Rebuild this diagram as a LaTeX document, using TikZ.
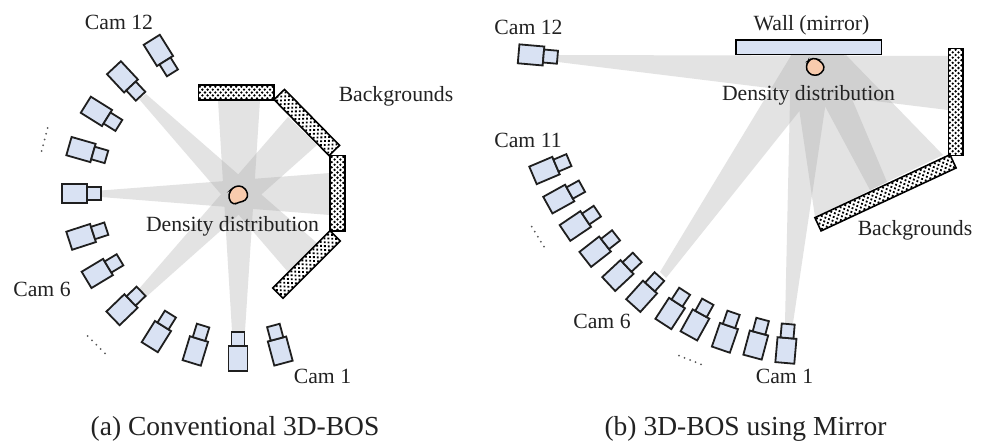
\documentclass[tikz,border=0pt]{standalone}
\usepackage{fontspec}
\setmainfont{Liberation Serif}
\definecolor{camfill}{HTML}{D9E2F3}
\definecolor{blobfill}{HTML}{F8CBAD}
\definecolor{txt}{HTML}{222222}
\definecolor{beamone}{HTML}{E3E3E3}
\definecolor{beamtwo}{HTML}{D0D0D0}
\tikzset{
  camshape/.style={draw=black!88,line width=1.8pt,fill=camfill,line join=miter},
  blob/.style={draw=black,line width=1.5pt,fill=blobfill,rounded corners=3.5pt},
  lab/.style={font=\fontsize{21.7}{24}\selectfont,text=txt,anchor=base,inner sep=0pt},
  captext/.style={font=\fontsize{27.5}{30}\selectfont,text=txt,anchor=base,inner sep=0pt},
  wallline/.style={draw=black,line width=1.6pt},
  speck/.style={fill=black!65,draw=none}
}
% camera: junction x,y, direction of lens in degrees
\newcommand{\camera}[3]{%
  \begin{scope}[shift={(#1,#2)},rotate=#3]
    \filldraw[camshape] (-25,-9.5) rectangle (0,9.5);
    \filldraw[camshape] (0,-6.5) rectangle (14,6.5);
  \end{scope}}
% textured wall: centre x,y, angle, length
\newcommand{\texwall}[4]{%
  \begin{scope}[shift={(#1,#2)},rotate=#3]
    \fill[white] (-#4/2,-7.3) rectangle (#4/2,7.3);
    \begin{scope}
      \clip (-#4/2,-7.3) rectangle (#4/2,7.3);
      \pgfmathsetmacro{\halfl}{#4/2}
      \foreach \r in {-2,...,2}{
        \foreach \c in {-32,...,32}{
          \pgfmathsetmacro{\px}{\c*5.2+mod(\r+2,2)*2.6}
          \pgfmathparse{abs(\px)<\halfl+3?1:0}
          \ifnum\pgfmathresult=1
            \fill[black] (\px,\r*2.9) circle (1.3);
          \fi
        }
      }
    \end{scope}
    \draw[wallline] (-#4/2,-7.3) rectangle (#4/2,7.3);
  \end{scope}}
\newcommand{\specks}[4]{%
  \foreach \t in {0,.25,.5,.75,1}{
    \fill[speck] ({#1+\t*(#3-#1)},{#2+\t*(#4-#2)}) circle (1);
  }}
% fill the pairwise overlap of two beams
\newcommand{\overlap}[2]{%
  \begin{scope}\clip #1; \fill[beamtwo] #2; \end{scope}}
\def\lbA{(101,190.5) -- (101,197) -- (330,215) -- (330,173) -- cycle}
\def\lbB{(139,99) -- (146,94) -- (317,243) -- (288,272) -- cycle}
\def\lbC{(232,331) -- (245,331) -- (260,100) -- (218,100) -- cycle}
\def\lbD{(138,290) -- (146,297) -- (317,145) -- (288,117) -- cycle}
\def\rbA{(558,55) -- (558,62) -- (948,110) -- (948,56) -- cycle}
\def\rbB{(660,272) -- (666,278) -- (845,54) -- (792,54) -- cycle}
\def\rbC{(785,323) -- (793,323) -- (833,54) -- (791,54) -- cycle}
\def\rbD{(791,54) -- (833,54) -- (887,182) -- (815,217) -- cycle}
\def\rbE{(797,54) -- (845,54) -- (943,155) -- (870,190) -- cycle}
\begin{document}
\begin{tikzpicture}[x=1pt,y=-1pt]
\useasboundingbox (0,0) rectangle (982,440);
\fill[white] (0,0) rectangle (982,440);
% ---- left beams
\fill[beamone] \lbA; \fill[beamone] \lbB; \fill[beamone] \lbC; \fill[beamone] \lbD;
\overlap{\lbA}{\lbB}\overlap{\lbA}{\lbC}\overlap{\lbA}{\lbD}
\overlap{\lbB}{\lbC}\overlap{\lbB}{\lbD}\overlap{\lbC}{\lbD}
% ---- right beams
\fill[beamone] \rbA; \fill[beamone] \rbB; \fill[beamone] \rbC; \fill[beamone] \rbD; \fill[beamone] \rbE;
\overlap{\rbA}{\rbB}\overlap{\rbA}{\rbC}\overlap{\rbA}{\rbD}\overlap{\rbA}{\rbE}
\overlap{\rbB}{\rbC}\overlap{\rbB}{\rbD}\overlap{\rbB}{\rbE}
\overlap{\rbC}{\rbD}\overlap{\rbC}{\rbE}\overlap{\rbD}{\rbE}
% ---- left cameras
\camera{165}{61}{-58}
\camera{131}{86}{-47}
\camera{107}{118}{-32}
\camera{93}{153}{-16}
\camera{87}{193.5}{0}
\camera{93}{233}{18}
\camera{108}{267}{31}
\camera{131}{301}{44}
\camera{163}{326}{58}
\camera{199}{339}{73}
\camera{238}{346}{90}
\camera{277}{339}{105}
% ---- right cameras
\camera{543.5}{56}{-5}
\camera{556}{165.6}{23}
\camera{569.7}{193}{29}
\camera{585.7}{219}{34}
\camera{605}{244}{38}
\camera{627}{267}{43}
\camera{650}{287}{48}
\camera{677}{303}{57}
\camera{701}{314}{61}
\camera{729}{326}{71}
\camera{759}{333}{75}
\camera{787}{338}{85}
% ---- walls
\texwall{236.2}{92.5}{0}{75.7}
\texwall{306.8}{122.5}{-45.5}{78.5}
\texwall{337.5}{193.3}{90}{75.3}
\texwall{306.5}{264.5}{45}{81}
\texwall{955.6}{101.8}{90}{107}
\texwall{885.5}{192.8}{25}{149}
\draw[wallline,fill=camfill] (735.7,40) rectangle (881.3,54.3);
% ---- blobs
\draw[blob] (235,186) -- (242.7,186) -- (248.3,193.3) -- (246,200.7) -- (238.3,202.3) -- (233.3,205) -- (228.3,198.3) -- (230,190.7) -- cycle;
\draw[blob] (812.7,57.7) -- (819.3,60) -- (825,66.7) -- (821.7,73.3) -- (815,76) -- (808.3,73.3) -- (805.7,66.7) -- (808.3,61) -- cycle;
% ---- specks
\specks{47.7}{128}{41.7}{151}
\specks{87.7}{336}{105}{353.3}
\specks{531.7}{226.7}{544}{246.7}
\specks{679}{355.7}{701}{364.3}
% ---- labels
\node[lab] (l12) at (119,29) {Cam 12};
\node[lab] (lbg) at (396,101) {Backgrounds};
\node[lab] (ldd) at (232.5,231) {Density distribution};
\node[lab] (l6) at (42,296) {Cam 6};
\node[lab] (l1) at (322.5,383) {Cam 1};
\node[lab] (r12) at (528.5,34) {Cam 12};
\node[lab] (r11) at (528,147) {Cam 11};
\node[lab] (r6) at (602,328) {Cam 6};
\node[lab] (r1) at (784.5,383) {Cam 1};
\node[lab] (rw) at (811.5,30) {Wall (mirror)};
\node[lab] (rdd) at (808.5,100) {Density distribution};
\node[lab] (rbg) at (915,235) {Backgrounds};
\node[captext] (ca) at (235,435) {(a) Conventional 3D-BOS};
\node[captext] (cb) at (745.5,435) {(b) 3D-BOS using Mirror};
\end{tikzpicture}
\end{document}
